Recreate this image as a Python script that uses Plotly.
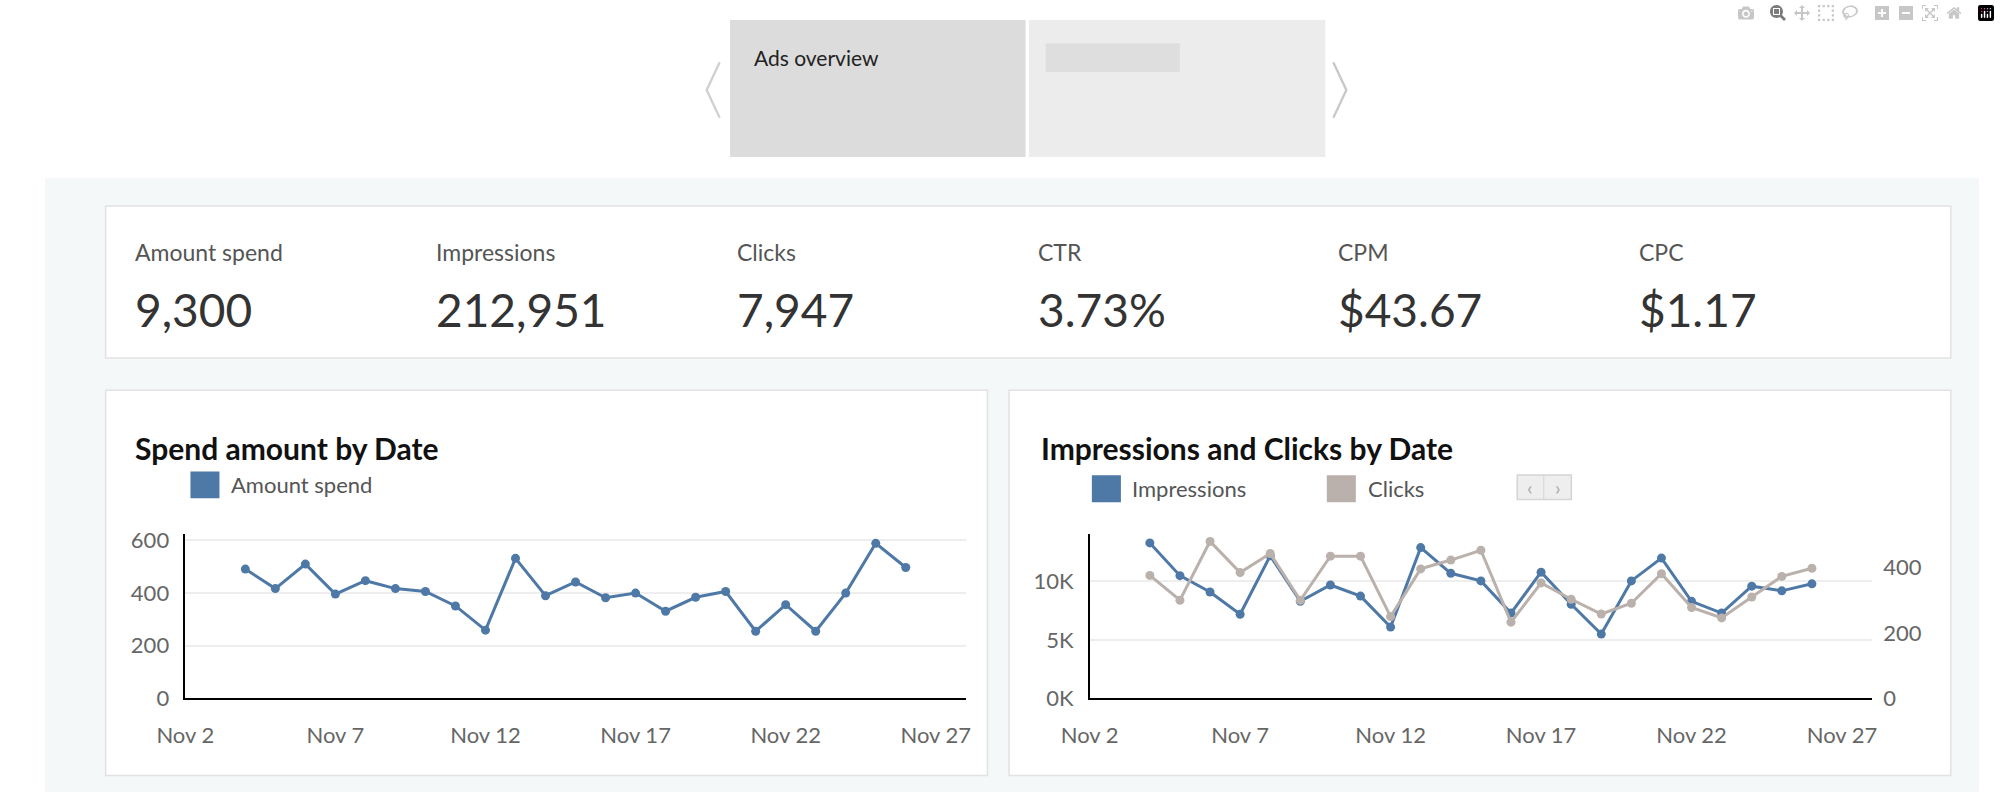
import plotly.graph_objects as go

# data
dates = [f"2023-11-{d:02d}" for d in range(4, 27)]
spend = [491, 417, 510, 396, 447, 417, 406, 351, 259, 532, 390, 442, 382, 400,
         331, 384, 406, 255, 356, 255, 400, 589, 497]
impressions = [13300, 10500, 9100, 7200, 12200, 8300, 9700, 8750, 6100, 12900, 10700, 10050,
               7300, 10800, 8050, 5500, 10050, 12000, 8300, 7300, 9600, 9200, 9800]
clicks = [376, 300, 480, 385, 443, 300, 435, 435, 250, 396, 423, 453, 233, 353,
          303, 258, 291, 381, 278, 246, 310, 373, 398]

kpi_labels = ["Amount spend", "Impressions", "Clicks", "CTR", "CPM", "CPC"]
kpi_values = ["9,300", "212,951", "7,947", "3.73%", "$43.67", "$1.17"]

tick_dates = ["2023-11-02", "2023-11-07", "2023-11-12", "2023-11-17", "2023-11-22", "2023-11-27"]
tick_text = ["Nov 2", "Nov 7", "Nov 12", "Nov 17", "Nov 22", "Nov 27"]

W, H = 2000, 804
BLUE = "#4e79a7"
GREY = "#bab0ac"
FONT = "Lato"


def px(x):
    return x / W


def py(y):
    return 1 - y / H


fig = go.Figure()

fig.add_trace(go.Scatter(x=dates, y=spend, mode="lines+markers", xaxis="x", yaxis="y",
                         line=dict(color=BLUE, width=3), marker=dict(size=9, color=BLUE),
                         showlegend=False))
fig.add_trace(go.Scatter(x=dates, y=clicks, mode="lines+markers", xaxis="x2", yaxis="y3",
                         line=dict(color=GREY, width=3), marker=dict(size=9, color=GREY),
                         showlegend=False))
fig.add_trace(go.Scatter(x=dates, y=impressions, mode="lines+markers", xaxis="x2", yaxis="y2",
                         line=dict(color=BLUE, width=3), marker=dict(size=9, color=BLUE),
                         showlegend=False))

shapes = []


def rect(x0, y0, x1, y1, fill, line=None, layer="below"):
    shapes.append(dict(type="rect", xref="paper", yref="paper",
                       x0=px(x0), x1=px(x1), y0=py(y1), y1=py(y0),
                       fillcolor=fill, line=dict(color=line or fill, width=1.5), layer=layer))


# page background band and panels
rect(17, 176, 1983, 804, "#f5f8f8")
rect(78, 204, 1955, 360, "white", "#e2e2e2")
rect(78, 393, 975, 788, "white", "#e2e2e2")
rect(997, 393, 1955, 788, "white", "#e2e2e2")
# tabs
rect(714, 14, 1013, 153, "#dcdcdc")
rect(1018, 14, 1318, 153, "#ececec")
rect(1035, 38, 1170, 66, "#dedede")
# legend swatches
rect(165, 477, 193, 503, BLUE, layer="above")
rect(1082, 481, 1110, 507, BLUE, layer="above")
rect(1321, 481, 1349, 507, GREY, layer="above")
rect(1514, 480, 1569, 505, "#eeeeee", "#d5d5d5", layer="above")
shapes.append(dict(type="line", xref="paper", yref="paper", x0=px(1541), x1=px(1541),
                   y0=py(505), y1=py(480), line=dict(color="#d5d5d5", width=1)))

ann = []


def text(x, y, s, size, color="#333", bold=False, xanchor="left"):
    ann.append(dict(x=px(x), y=py(y), xref="paper", yref="paper", text=f"<b>{s}</b>" if bold else s,
                    showarrow=False, xanchor=xanchor, yanchor="middle",
                    font=dict(family=FONT, size=size, color=color)))


text(735, 52, "Ads overview", 21, "#222")
text(680, 84, "〈", 64, "#d0d0d0", xanchor="center")
text(1350, 84, "〉", 64, "#c8c8c8", xanchor="center")

for i, (lab, val) in enumerate(zip(kpi_labels, kpi_values)):
    x = 106 + i * 306
    text(x, 251, lab, 23, "#555")
    text(x, 310, val, 46, "#333")

text(106, 452, "Spend amount by Date", 30, "#111", bold=True)
text(1027, 452, "Impressions and Clicks by Date", 30, "#111", bold=True)
text(203, 490, "Amount spend", 22, "#555")
text(1120, 494, "Impressions", 22, "#555")
text(1360, 494, "Clicks", 22, "#555")
text(1527, 492, "‹", 20, "#aaa", xanchor="center")
text(1555, 492, "›", 20, "#aaa", xanchor="center")

xcommon = dict(type="date", range=["2023-11-02", "2023-11-28"], tickvals=tick_dates,
               ticktext=tick_text, showgrid=False, showline=True, linecolor="black",
               linewidth=1.5, ticks="", tickfont=dict(family=FONT, size=22, color="#666"),
               ticklabelstandoff=16, zeroline=False)
yfont = dict(family=FONT, size=22, color="#666")

y0, y1 = py(709), py(540)
fig.update_layout(
    width=W, height=H, margin=dict(l=0, r=0, t=0, b=0),
    paper_bgcolor="white", plot_bgcolor="rgba(0,0,0,0)",
    shapes=shapes, annotations=ann,
    xaxis=dict(xcommon, domain=[px(159), px(953)], anchor="y"),
    xaxis2=dict(xcommon, domain=[px(1079), px(1875)], anchor="y2"),
    yaxis=dict(domain=[y0, y1], range=[0, 626], tickvals=[0, 200, 400, 600],
               showgrid=True, gridcolor="#eeeeee", gridwidth=1.5, showline=True,
               linecolor="black", linewidth=1.5, zeroline=False, tickfont=yfont, anchor="x",
               ticklabelstandoff=10),
    yaxis2=dict(domain=[y0, y1], range=[0, 14100], tickvals=[0, 5000, 10000],
                ticktext=["0K", "5K", "10K"], showgrid=True, gridcolor="#eeeeee", gridwidth=1.5,
                showline=True, linecolor="black", linewidth=1.5, zeroline=False,
                tickfont=yfont, anchor="x2", ticklabelstandoff=10),
    yaxis3=dict(domain=[y0, y1], range=[0, 504], tickvals=[0, 200, 400], overlaying="y2",
                side="right", showgrid=False, showline=False, zeroline=False,
                tickfont=yfont, anchor="x2", ticklabelstandoff=10),
)

# drop the default page margin so the figure sits at the window's top-left
fig.write_html("out.html",
               post_script="document.body.style.margin='0';document.body.style.overflow='hidden';")
